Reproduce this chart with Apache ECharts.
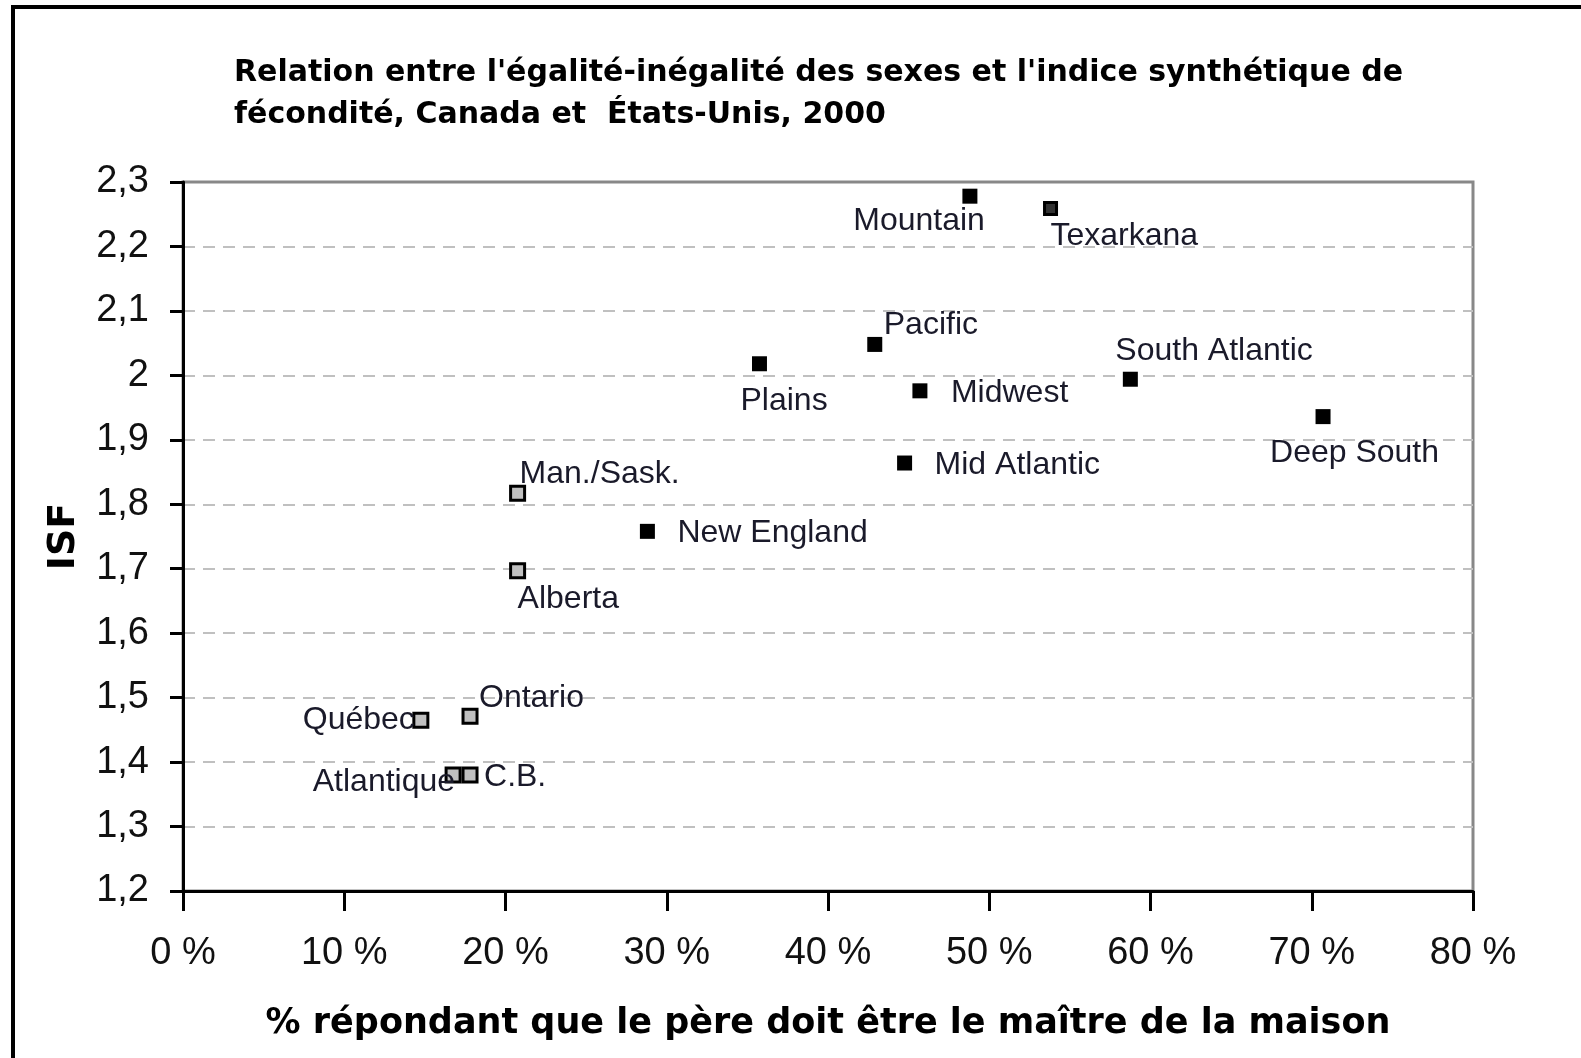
<!DOCTYPE html>
<html>
<head>
<meta charset="utf-8">
<script src="https://cdn.jsdelivr.net/npm/echarts@6/dist/echarts.min.js"></script>
<style>
  html, body { margin: 0; padding: 0; background: #fff; }
  #chart { width: 1581px; height: 1058px; }
</style>
</head>
<body>
<div id="chart"></div>
<script>
// Canada (provinces / regions)
const canadaNames = ['Man./Sask.', 'Alberta', 'Ontario', 'Québec', 'Atlantique', 'C.B.'];
const canadaX = [20.75, 20.75, 17.8, 14.75, 16.75, 17.8];
const canadaY = [1.817, 1.697, 1.471, 1.465, 1.38, 1.38];

// United States (regions)
const usNames = ['Mountain', 'Texarkana', 'Pacific', 'Plains', 'Midwest', 'South Atlantic',
  'Deep South', 'Mid Atlantic', 'New England'];
const usX = [48.8, 53.8, 42.9, 35.75, 45.7, 58.75, 70.7, 44.75, 28.8];
const usY = [2.278, 2.259, 2.048, 2.018, 1.976, 1.994, 1.936, 1.864, 1.758];

// where each label sits around its marker: [align, dx, dy]
const labelPlace = {
  'Mountain': ['right', 15, 25],
  'Texarkana': ['left', 0, 28],
  'Pacific': ['left', 9, -19],
  'Plains': ['left', -19, 37],
  'Midwest': ['left', 31, 2],
  'South Atlantic': ['left', -15, -28],
  'Deep South': ['left', -53, 37],
  'Mid Atlantic': ['left', 30, 2],
  'New England': ['left', 30, 2],
  'Man./Sask.': ['left', 2, -19],
  'Alberta': ['left', 0, 29],
  'Ontario': ['left', 9, -18],
  'Québec': ['right', -6, 0],
  'Atlantique': ['right', 2, 7],
  'C.B.': ['left', 14, 2]
};

const FONT = '"Liberation Sans", Arial, sans-serif';
const BOLD_FONT = '"DejaVu Sans", Verdana, sans-serif';

function buildPoints(names, xs, ys) {
  return names.map((n, i) => {
    const p = labelPlace[n];
    const item = {
      name: n,
      value: [xs[i], ys[i]],
      label: {
        show: true,
        formatter: n,
        position: ['50%', '50%'],
        align: p[0],
        verticalAlign: 'middle',
        offset: [p[1], p[2]]
      }
    };
    if (n === 'Texarkana') {
      item.symbolSize = 12;
      item.itemStyle = { color: '#333333', borderColor: '#000', borderWidth: 3 };
    }
    return item;
  });
}

const labelStyle = { fontFamily: FONT, fontSize: 32, color: '#1a1a2a' };

const myChart = echarts.init(document.getElementById('chart'));

const option = {
  backgroundColor: '#ffffff',
  animation: false,
  title: {
    text: "Relation entre l'égalité-inégalité des sexes et l'indice synthétique de\nfécondité, Canada et  États-Unis, 2000",
    left: 229,
    top: 47,
    textStyle: {
      fontFamily: BOLD_FONT,
      fontSize: 30,
      fontWeight: 'bold',
      lineHeight: 42,
      color: '#000'
    }
  },
  graphic: [{
    type: 'rect',
    shape: { x: 13, y: 7, width: 1700, height: 1200 },
    style: { fill: 'none', stroke: '#000', lineWidth: 4 },
    silent: true
  }],
  grid: {
    left: 183,
    top: 182,
    width: 1290,
    height: 709,
    show: true,
    borderColor: '#888888',
    borderWidth: 3,
    backgroundColor: 'transparent'
  },
  xAxis: {
    type: 'value',
    min: 0,
    max: 80,
    interval: 10,
    name: '% répondant que le père doit être le maître de la maison',
    nameLocation: 'middle',
    nameGap: 115,
    nameTextStyle: { fontFamily: BOLD_FONT, fontSize: 35, fontWeight: 'bold', color: '#000' },
    axisLine: { show: true, lineStyle: { color: '#000', width: 3 } },
    axisTick: { show: true, length: 20, lineStyle: { color: '#000', width: 3 } },
    axisLabel: {
      margin: 44,
      fontFamily: FONT,
      fontSize: 38,
      color: '#111',
      formatter: v => v + ' %'
    },
    splitLine: { show: false }
  },
  yAxis: {
    type: 'value',
    min: 1.2,
    max: 2.3,
    interval: 0.1,
    name: 'ISF',
    nameLocation: 'middle',
    nameGap: 100,
    nameRotate: 90,
    nameTextStyle: { fontFamily: BOLD_FONT, fontSize: 38, fontWeight: 'bold', color: '#000' },
    axisLine: { show: true, lineStyle: { color: '#000', width: 3 } },
    axisTick: { show: true, length: 13, lineStyle: { color: '#000', width: 3 } },
    axisLabel: {
      margin: 34,
      fontFamily: FONT,
      fontSize: 38,
      color: '#111',
      formatter: v => String(Math.round(v * 10) / 10).replace('.', ',')
    },
    splitLine: {
      show: true,
      showMinLine: false,
      showMaxLine: false,
      lineStyle: { color: '#c0c0c0', width: 2, type: [12, 8] }
    }
  },
  series: [
    {
      name: 'Canada',
      type: 'scatter',
      symbol: 'rect',
      symbolSize: 14,
      itemStyle: { color: '#c0c0c0', borderColor: '#000', borderWidth: 3, opacity: 1 },
      label: labelStyle,
      data: buildPoints(canadaNames, canadaX, canadaY)
    },
    {
      name: 'États-Unis',
      type: 'scatter',
      symbol: 'rect',
      symbolSize: 15,
      itemStyle: { color: '#000', opacity: 1 },
      label: labelStyle,
      data: buildPoints(usNames, usX, usY)
    }
  ]
};

myChart.setOption(option);
</script>
</body>
</html>
